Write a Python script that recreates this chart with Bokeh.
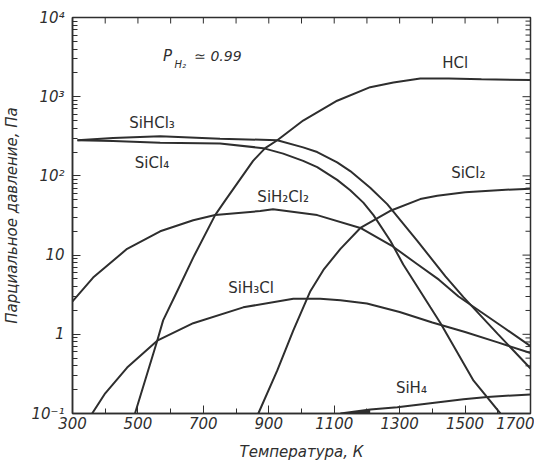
import math
from bokeh.plotting import figure
from bokeh.models import FixedTicker, Range1d, Label
from bokeh.embed import file_html
from bokeh.resources import INLINE

# ---------------- data ----------------
x_tick_values = [300, 500, 700, 900, 1100, 1300, 1500, 1700]
x_minor_values = [400, 600, 800, 1000, 1200, 1400, 1600]
y_tick_values = [0.1, 1, 10, 100, 1000, 10000]
y_tick_labels = ["10⁻¹", "1", "10", "10²", "10³", "10⁴"]

hcl_T = [491, 559, 577, 620, 669, 736, 767, 852, 889, 926, 1005, 1109, 1210, 1281, 1363, 1450, 1550, 1700]
hcl_P = [0.1, 0.83, 1.5, 3.5, 9.3, 32, 49, 155, 224, 282, 500, 890, 1320, 1510, 1700, 1700, 1660, 1620]

sihcl3_T = [315, 424, 568, 751, 926, 1005, 1048, 1109, 1149, 1210, 1262, 1354, 1440, 1495, 1599, 1700]
sihcl3_P = [282, 302, 316, 295, 282, 229, 200, 148, 115, 71, 44, 15.1, 5.4, 2.95, 1.02, 0.37]

sicl4_T = [315, 424, 568, 751, 883, 944, 1005, 1048, 1109, 1149, 1189, 1220, 1272, 1311, 1394, 1425, 1526, 1608]
sicl4_P = [282, 275, 263, 257, 224, 191, 155, 129, 89, 66, 46, 32, 15.1, 7.6, 2.19, 1.38, 0.26, 0.10]

sicl2_T = [868, 926, 975, 1027, 1067, 1119, 1180, 1270, 1363, 1415, 1500, 1600, 1700]
sicl2_P = [0.10, 0.35, 1.12, 3.5, 6.5, 12, 22, 36, 51, 56, 62, 66, 69]

sih2cl2_T = [300, 363, 467, 568, 669, 736, 874, 913, 1048, 1180, 1275, 1350, 1420, 1480, 1550, 1620, 1700]
sih2cl2_P = [2.6, 5.2, 12, 20, 27.5, 32, 36, 38, 32, 22, 13.2, 7.9, 4.9, 3.0, 1.9, 1.2, 0.71]

sih3cl_T = [360, 400, 467, 559, 669, 822, 975, 1057, 1119, 1200, 1300, 1400, 1500, 1600, 1700]
sih3cl_P = [0.10, 0.18, 0.38, 0.83, 1.38, 2.19, 2.82, 2.82, 2.69, 2.45, 1.91, 1.41, 1.07, 0.79, 0.58]

sih4_T = [1119, 1210, 1293, 1394, 1495, 1568, 1700]
sih4_P = [0.10, 0.112, 0.120, 0.135, 0.151, 0.162, 0.174]

x_title = "Температура, К"
y_title = "Парциальное давление, Па"

# ---------------- styling ----------------
INK = "#2e2e2e"
FONT = "DejaVu Sans"

p = figure(width=534, height=464,
           x_range=Range1d(300, 1700), y_range=Range1d(0.1, 10000),
           y_axis_type="log", output_backend="svg", toolbar_location=None,
           min_border_left=72, min_border_right=4, min_border_top=17, min_border_bottom=51)
p.background_fill_color = "white"
p.border_fill_color = "white"
p.outline_line_color = INK
p.outline_line_width = 1.5
p.grid.visible = False

x_ticker = FixedTicker(ticks=x_tick_values, minor_ticks=x_minor_values)
y_minor = [k * t for t in y_tick_values[:-1] for k in range(2, 10)]
y_ticker = FixedTicker(ticks=y_tick_values, minor_ticks=y_minor)


def style_axis(ax):
    ax.axis_line_color = INK
    ax.axis_line_width = 1.5
    ax.major_tick_line_color = INK
    ax.minor_tick_line_color = INK
    ax.major_tick_in = 8
    ax.major_tick_out = 0
    ax.minor_tick_in = 5
    ax.minor_tick_out = 0
    ax.major_label_text_font = FONT
    ax.major_label_text_font_style = "italic"
    ax.major_label_text_color = INK
    ax.major_label_text_font_size = "15px"
    ax.axis_label_text_font = FONT
    ax.axis_label_text_font_style = "italic"
    ax.axis_label_text_font_size = "15px"
    ax.axis_label_text_color = INK


xa = p.xaxis[0]
xa.ticker = x_ticker
style_axis(xa)
xa.major_label_standoff = 3
xa.axis_label = x_title
xa.axis_label_standoff = 11

ya = p.yaxis[0]
ya.ticker = y_ticker
style_axis(ya)
ya.major_label_overrides = {v: s for v, s in zip(y_tick_values, y_tick_labels)}
ya.major_label_standoff = 8
ya.axis_label = y_title
ya.axis_label_standoff = 7

# inward ticks on the top and right edges of the frame
top_ticks = x_tick_values + x_minor_values
p.ray(x=top_ticks, y=[y_tick_values[-1]] * len(top_ticks), length=6, length_units="screen",
      angle=-math.pi / 2, line_color=INK, line_width=1)
p.ray(x=[x_tick_values[-1]] * len(y_minor), y=y_minor, length=5, length_units="screen",
      angle=math.pi, line_color=INK, line_width=1)
p.ray(x=[x_tick_values[-1]] * len(y_tick_values), y=y_tick_values, length=8, length_units="screen",
      angle=math.pi, line_color=INK, line_width=1)

series = [
    (hcl_T, hcl_P), (sihcl3_T, sihcl3_P), (sicl4_T, sicl4_P), (sicl2_T, sicl2_P),
    (sih2cl2_T, sih2cl2_P), (sih3cl_T, sih3cl_P), (sih4_T, sih4_P),
]
for t, pr in series:
    p.line(t, pr, line_color=INK, line_width=2)

# small dark wedge where SiH4 leaves the axis
p.varea(x=sih4_T[:2], y1=[y_tick_values[0]] * 2, y2=sih4_P[:2], fill_color=INK)

labels = [
    ("HCl", 1470, 2630), ("SiHCl₃", 543, 468), ("SiCl₄", 543, 145),
    ("SiH₂Cl₂", 944, 54), ("SiCl₂", 1510, 110), ("SiH₃Cl", 846, 3.8), ("SiH₄", 1336, 0.21),
]
for txt, x, y in labels:
    p.add_layout(Label(x=x, y=y, text=txt, text_font=FONT, text_font_size="15px",
                       text_color=INK, text_align="center", text_baseline="middle"))

p.add_layout(Label(x=577, y=3230, text="P", text_font=FONT, text_font_size="15px",
                   text_font_style="italic", text_color=INK, text_align="left", text_baseline="middle"))
p.add_layout(Label(x=612, y=2570, text="H₂", text_font=FONT, text_font_size="10px",
                   text_font_style="italic", text_color=INK, text_align="left", text_baseline="middle"))
p.add_layout(Label(x=672, y=3230, text="≃ 0.99", text_font=FONT, text_font_size="14px",
                   text_font_style="italic", text_color=INK, text_align="left", text_baseline="middle"))

open("out.html", "w").write(file_html(p, INLINE))
